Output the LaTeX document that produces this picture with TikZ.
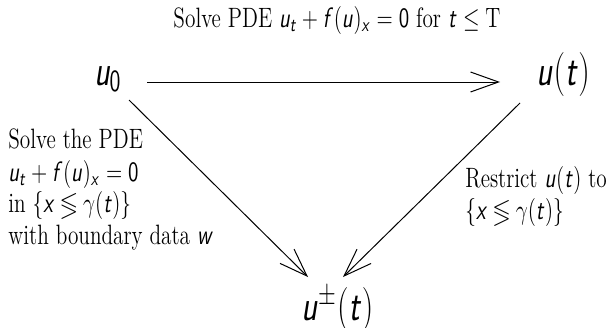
\documentclass[tikz,border=0pt]{standalone}
\usepackage{fix-cm}
\usepackage{amssymb}
\usetikzlibrary{arrows.meta}
\DeclareSymbolFont{sfit}{OT1}{cmss}{m}{sl}
\DeclareSymbolFont{sfup}{OT1}{cmss}{m}{n}
\DeclareMathSymbol{u}{\mathalpha}{sfit}{`u}
\DeclareMathSymbol{f}{\mathalpha}{sfit}{`f}
\DeclareMathSymbol{t}{\mathalpha}{sfit}{`t}
\DeclareMathSymbol{x}{\mathalpha}{sfit}{`x}
\DeclareMathSymbol{w}{\mathalpha}{sfit}{`w}
\DeclareMathSymbol{0}{\mathalpha}{sfup}{`0}
\newcommand\sq[1]{\scalebox{0.76}[1]{#1}}
\begin{document}
\begin{tikzpicture}[x=0.5pt,y=-0.5pt,
  txt/.style={inner sep=0pt,anchor=base west,font=\fontsize{14}{17}\selectfont},
  big/.style={inner sep=0pt,anchor=base west,font=\fontsize{22}{26}\selectfont},
  arr/.style={line width=0.5pt,-{Straight Barb[length=14pt,width=10pt,line width=0.5pt]}}]
\useasboundingbox (0,0) rectangle (609,327);
\node[txt,anchor=base] (top) at (337,27) {\sq{Solve PDE $u_t+f(u)_x=0$ for $t\le\mathrm{T}$}};
\node[big] (u0) at (94,85) {\scalebox{0.72}[1]{$u_0$}};
\node[big] (ut) at (536,85) {\scalebox{0.74}[1]{$u\bigl(t\bigr)$}};
\node[big] (upm) at (301,320) {\scalebox{0.74}[1]{$u^{\pm}\bigl(t\bigr)$}};
\node[txt] (l1) at (8,148) {\sq{Solve the PDE}};
\node[txt] (l2) at (8,181) {\sq{$u_t+f(u)_x=0$}};
\node[txt] (l3) at (8,212) {\sq{in $\{x\lessgtr\gamma(t)\}$}};
\node[txt] (l4) at (8,244) {\sq{with boundary data $w$}};
\node[txt] (r1) at (465,187) {\sq{Restrict $u(t)$ to}};
\node[txt] (r2) at (465,219) {\sq{$\{x\lessgtr\gamma(t)\}$}};
\draw[arr] ([shift={(53,-3)}]u0.base west) -- ([shift={(-36,-3)}]ut.base west);
\draw[arr] ([shift={(35,15)}]u0.base west) -- ([shift={(7,-43)}]upm.base west);
\draw[arr] ([shift={(-16,18)}]ut.base west) -- ([shift={(42,-43)}]upm.base west);
\end{tikzpicture}
\end{document}
